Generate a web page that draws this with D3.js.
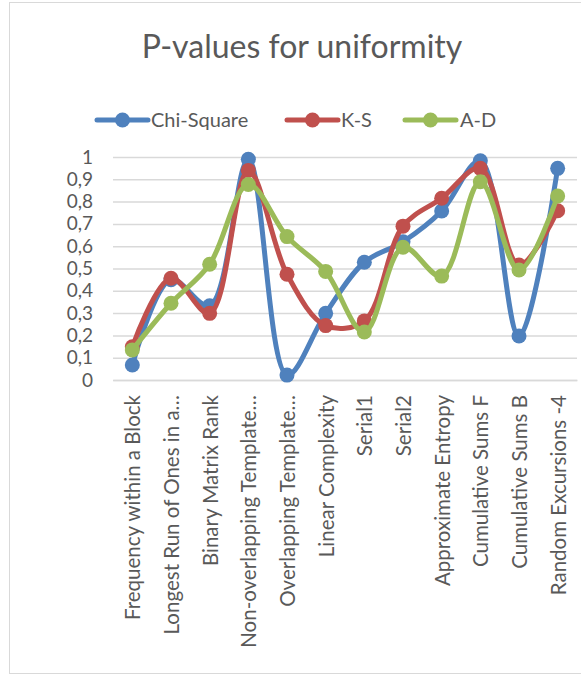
<!DOCTYPE html>
<html>
<head>
<meta charset="utf-8">
<script src="https://cdn.jsdelivr.net/npm/d3@7"></script>
<style>
  html, body { margin: 0; padding: 0; background: #fff; }
  svg { display: block; font-family: Lato, "Open Sans", sans-serif; }
</style>
</head>
<body>
<svg id="chart" width="581" height="674"></svg>
<script>
// NIST test names along the x axis
const categories = [
  "Frequency within a Block",
  "Longest Run of Ones in a…",
  "Binary Matrix Rank",
  "Non-overlapping Template…",
  "Overlapping Template…",
  "Linear Complexity",
  "Serial1",
  "Serial2",
  "Approximate Entropy",
  "Cumulative Sums F",
  "Cumulative Sums B",
  "Random Excursions -4"
];

// P-values for each uniformity test
const chiSquare = [0.067, 0.45, 0.333, 0.99, 0.022, 0.299, 0.528, 0.62, 0.758, 0.983, 0.197, 0.949];
const ks        = [0.149, 0.456, 0.299, 0.94, 0.474, 0.244, 0.265, 0.69, 0.815, 0.949, 0.516, 0.759];
const ad        = [0.135, 0.344, 0.519, 0.877, 0.643, 0.487, 0.215, 0.595, 0.466, 0.889, 0.493, 0.825];

const yTicks = [0, 0.1, 0.2, 0.3, 0.4, 0.5, 0.6, 0.7, 0.8, 0.9, 1];
const seriesNames = ["Chi-Square", "K-S", "A-D"];
const seriesColors = ["#4F81BD", "#C0504D", "#9BBB59"];
const seriesValues = [chiSquare, ks, ad];

const svg = d3.select("#chart");
const textColor = "#595959";

// chart frame
svg.append("rect")
  .attr("x", 9.5).attr("y", 2.5)
  .attr("width", 600).attr("height", 671)
  .attr("fill", "#fff").attr("stroke", "#D9D9D9").attr("stroke-width", 1);

const plot = { left: 113, right: 577, top: 157, bottom: 380 };

const x = d3.scaleBand().domain(categories).range([plot.left, plot.right]);
const y = d3.scaleLinear().domain([0, 1]).range([plot.bottom, plot.top]);

// title
svg.append("text")
  .attr("x", 302).attr("y", 58)
  .attr("text-anchor", "middle")
  .attr("fill", textColor)
  .attr("font-size", 32)
  .text("P-values for uniformity");

// gridlines + y axis labels
const yAxis = d3.axisLeft(y)
  .tickValues(yTicks)
  .tickSize(-(plot.right - plot.left))
  .tickPadding(20)
  .tickFormat(d => d3.format(".1~f")(d).replace(".", ","));

const gy = svg.append("g")
  .attr("transform", `translate(${plot.left},0)`)
  .call(yAxis);
gy.select(".domain").remove();
gy.selectAll(".tick line").attr("stroke", "#D9D9D9").attr("stroke-width", 1.5);
gy.selectAll(".tick text")
  .attr("fill", textColor)
  .attr("font-size", 19)
  .attr("font-family", "Lato, sans-serif");

// x axis labels, rotated
const xAxis = d3.axisBottom(x).tickSize(0).tickPadding(0);
const gx = svg.append("g")
  .attr("transform", `translate(0,${plot.bottom})`)
  .call(xAxis);
gx.select(".domain").attr("stroke", "#D9D9D9").attr("stroke-width", 1.5);
gx.selectAll(".tick text")
  .attr("fill", textColor)
  .attr("font-size", 20.5)
  .attr("font-family", "Lato, sans-serif")
  .attr("text-anchor", "end")
  .attr("dy", null)
  .attr("transform", "translate(8,15) rotate(-90)");

// smoothed lines with markers
const line = d3.line()
  .x((d, i) => x(categories[i]) + x.bandwidth() / 2)
  .y(d => y(d))
  .curve(d3.curveCatmullRom.alpha(0.5));

seriesValues.forEach((vals, s) => {
  const g = svg.append("g");
  g.append("path")
    .datum(vals)
    .attr("d", line)
    .attr("fill", "none")
    .attr("stroke", seriesColors[s])
    .attr("stroke-width", 5)
    .attr("stroke-linejoin", "round")
    .attr("stroke-linecap", "round");
  g.selectAll("circle")
    .data(vals)
    .join("circle")
    .attr("cx", (d, i) => x(categories[i]) + x.bandwidth() / 2)
    .attr("cy", d => y(d))
    .attr("r", 7.5)
    .attr("fill", seriesColors[s]);
});

// legend
const legendItems = [
  { x0: 97, tx: 151 },
  { x0: 287, tx: 341 },
  { x0: 405, tx: 460 }
];
const legend = svg.append("g");
seriesNames.forEach((name, i) => {
  const it = legendItems[i];
  legend.append("line")
    .attr("x1", it.x0).attr("x2", it.x0 + 51)
    .attr("y1", 120).attr("y2", 120)
    .attr("stroke", seriesColors[i]).attr("stroke-width", 5)
    .attr("stroke-linecap", "round");
  legend.append("circle")
    .attr("cx", it.x0 + 25.5).attr("cy", 120).attr("r", 7.5)
    .attr("fill", seriesColors[i]);
  legend.append("text")
    .attr("x", it.tx).attr("y", 127)
    .attr("fill", textColor)
    .attr("font-size", 20)
    .text(name);
});
</script>
</body>
</html>
